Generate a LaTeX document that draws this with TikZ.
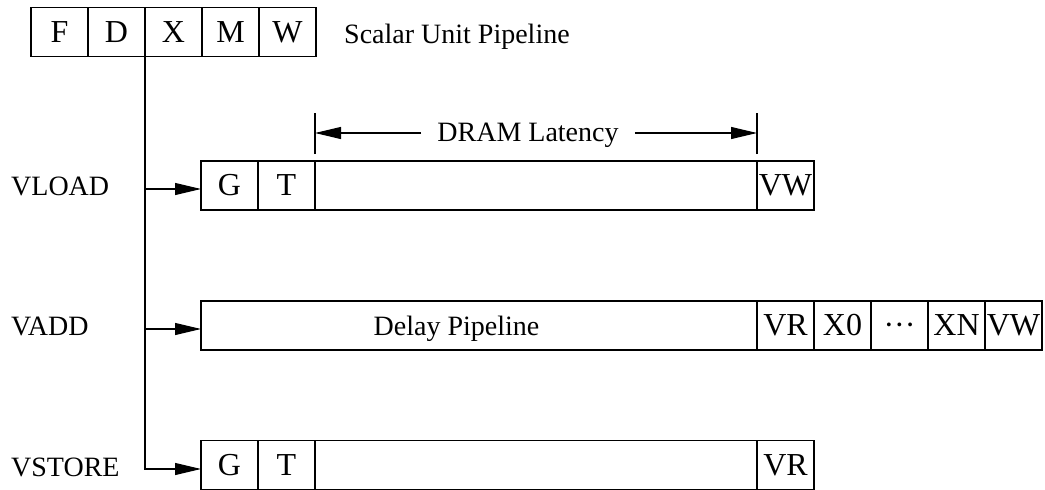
\documentclass[tikz,border=0pt]{standalone}
\usepackage{fontspec}
\setmainfont{Liberation Serif}
\usetikzlibrary{arrows.meta,calc}
\begin{document}
\begin{tikzpicture}[x=1pt,y=-1pt,
  font=\fontsize{28pt}{32pt}\selectfont,
  cell/.style={draw, line width=1.1pt, minimum width=57pt, minimum height=49pt,
    inner sep=0pt, outer sep=0pt, text height=20pt, text depth=0pt,
    font=\fontsize{32pt}{36pt}\selectfont},
  longbox/.style={cell, minimum width=#1},
  lbl/.style={anchor=base west, inner sep=0pt},
  arr/.style={line width=1.1pt, -{Triangle[length=26pt,width=12pt]}},
  wire/.style={line width=1.1pt}]
\useasboundingbox (0,0) rectangle (1045,490);
% scalar pipeline
\node[cell] (F) at (59.5,32) {F};
\node[cell] (D) at (116.5,32) {D};
\node[cell] (X) at (173.5,32) {X};
\node[cell] (M) at (230.5,32) {M};
\node[cell] (W) at (287.5,32) {W};
\node[lbl] (sup) at (344,43) {Scalar Unit Pipeline};
% VLOAD row
\node[cell] (G1) at (229.5,185.5) {G};
\node[cell] (T1) at (286.5,185.5) {T};
\node[longbox=442pt] (L1) at (536,185.5) {};
\node[cell] (VW1) at (785.5,185.5) {VW};
% VADD row
\node[longbox=556pt] (L2) at (479,325.5) {};
\node[inner sep=0pt, anchor=base] (dp) at (456.5,335) {Delay Pipeline};
\node[cell] (VR2) at (785.5,325.5) {VR};
\node[cell] (X02) at (842.5,325.5) {X0};
\node[cell] (DT2) at (899.5,325.5) {···};
\node[cell] (XN2) at (956.5,325.5) {XN};
\node[cell] (VW2) at (1013.5,325.5) {VW};
% VSTORE row
\node[cell] (G3) at (229.5,465) {G};
\node[cell] (T3) at (286.5,465) {T};
\node[longbox=442pt] (L3) at (536,465) {};
\node[cell] (VR3) at (785.5,465) {VR};
% labels
\node[lbl] (vload) at (11,195) {VLOAD};
\node[lbl] (vadd) at (11,335) {VADD};
\node[lbl] (vstore) at (11,476) {VSTORE};
% DRAM latency
\draw[wire] ([yshift=7pt]T1.north east) -- ++(0,-41);
\draw[wire] ([yshift=7pt]VW1.north west) -- ++(0,-41);
\coordinate (tL) at ($(T1.north east)+(0,-28)$);
\coordinate (tR) at ($(VW1.north west)+(0,-28)$);
\node[inner xsep=16pt, inner ysep=0pt, anchor=base] (dram) at (528,141) {DRAM Latency};
\draw[arr] (dram.west |- tL) -- (tL);
\draw[arr] (dram.east |- tR) -- (tR);
% connectors
\draw[arr] (X.south west) |- ([yshift=-4pt]G3.west);
\draw[arr] (X.south west |- G1.west) ++(0,3.5) -- ([yshift=-3.5pt]G1.west);
\draw[arr] (X.south west |- L2.west) ++(0,3.5) -- ([yshift=-3.5pt]L2.west);
\end{tikzpicture}
\end{document}
